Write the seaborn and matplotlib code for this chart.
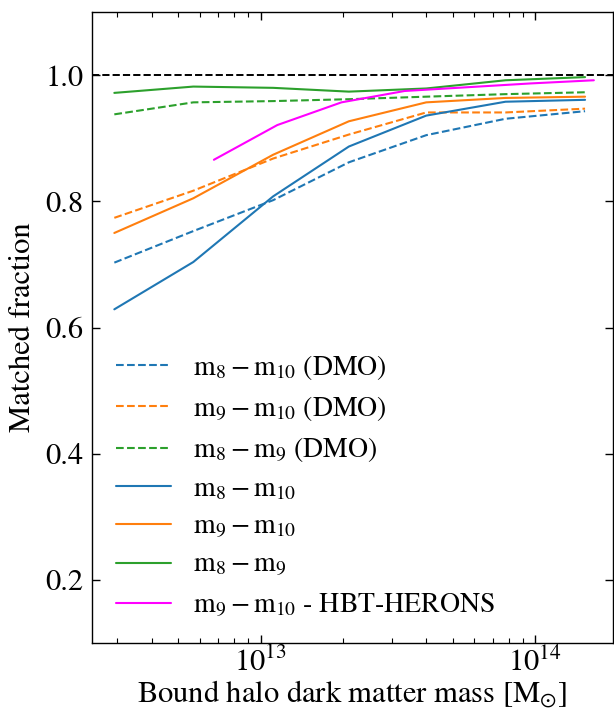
import numpy as np
import pandas as pd
import matplotlib
matplotlib.use("Agg")
import matplotlib.pyplot as plt
import seaborn as sns

# log10 of bound halo dark matter mass bin centres
log_mass = [12.466, 12.754, 13.045, 13.321, 13.603, 13.892, 14.182]
log_mass_hbt = [12.829, 13.060, 13.294, 13.524, 13.754, 13.984, 14.214]

# matched fractions, dark-matter-only runs
m8_m10_dmo = [0.703, 0.753, 0.802, 0.862, 0.905, 0.931, 0.943]
m9_m10_dmo = [0.774, 0.817, 0.868, 0.906, 0.941, 0.941, 0.947]
m8_m9_dmo = [0.938, 0.957, 0.959, 0.962, 0.966, 0.970, 0.973]

# matched fractions, full runs
m8_m10 = [0.629, 0.704, 0.808, 0.887, 0.936, 0.958, 0.961]
m9_m10 = [0.750, 0.805, 0.874, 0.927, 0.957, 0.964, 0.966]
m8_m9 = [0.972, 0.982, 0.980, 0.974, 0.979, 0.992, 0.997]
m9_m10_hbt = [0.866, 0.921, 0.957, 0.975, 0.981, 0.987, 0.992]

series = [
    (log_mass, m8_m10_dmo, r"$\rm m_8 - m_{10}$ (DMO)", "#1f77b4", "--"),
    (log_mass, m9_m10_dmo, r"$\rm m_9 - m_{10}$ (DMO)", "#ff7f0e", "--"),
    (log_mass, m8_m9_dmo, r"$\rm m_8 - m_9$ (DMO)", "#2ca02c", "--"),
    (log_mass, m8_m10, r"$\rm m_8 - m_{10}$", "#1f77b4", "-"),
    (log_mass, m9_m10, r"$\rm m_9 - m_{10}$", "#ff7f0e", "-"),
    (log_mass, m8_m9, r"$\rm m_8 - m_9$", "#2ca02c", "-"),
    (log_mass_hbt, m9_m10_hbt, r"$\rm m_9 - m_{10}$ - HBT-HERONS", "#ff00ff", "-"),
]

sns.set_style("ticks")
plt.rcParams["font.family"] = ["STIXGeneral", "Liberation Serif", "DejaVu Serif"]
plt.rcParams["mathtext.fontset"] = "stix"
for key in ["text.color", "axes.labelcolor", "xtick.color", "ytick.color", "axes.edgecolor"]:
    plt.rcParams[key] = "black"
plt.rcParams["xtick.direction"] = "in"
plt.rcParams["ytick.direction"] = "in"
plt.rcParams["xtick.top"] = True
plt.rcParams["ytick.right"] = True

fig = plt.figure(figsize=(6.14, 7.13), dpi=100)
ax = fig.add_axes([0.150, 0.098, 0.848, 0.885])

for lm, frac, label, color, ls in series:
    df = pd.DataFrame({"mass": 10.0 ** np.asarray(lm), "frac": frac})
    sns.lineplot(data=df, x="mass", y="frac", ax=ax, color=color,
                 linestyle=ls, linewidth=1.5, label=label)

ax.axhline(1.0, color="black", linestyle="--", linewidth=1.4)

ax.set_xscale("log")
ax.set_xlim(10 ** 12.385, 10 ** 14.283)
ax.set_ylim(0.1, 1.1)
ax.set_yticks([0.2, 0.4, 0.6, 0.8, 1.0])
ax.set_yticklabels(["0.2", "0.4", "0.6", "0.8", "1.0"])

ax.tick_params(axis="both", which="major", labelsize=22, length=6, width=1,
               direction="in", top=True, right=True)
ax.tick_params(axis="y", which="major", pad=6)
ax.tick_params(axis="x", which="major", pad=3)
ax.tick_params(axis="x", which="minor", length=3.5, width=0.8,
               direction="in", top=True, bottom=True)
for sp in ax.spines.values():
    sp.set_linewidth(1.0)
    sp.set_color("black")

ax.set_xlabel(r"Bound halo dark matter mass [$\rm M_{\odot}$]", fontsize=22, labelpad=0)
ax.set_ylabel("Matched fraction", fontsize=22, labelpad=6)

ax.legend(loc="lower left", fontsize=20, frameon=False, handlelength=2.0,
          handletextpad=0.8, labelspacing=0.44, borderaxespad=0.45)

fig.savefig("out.png", dpi=100)
